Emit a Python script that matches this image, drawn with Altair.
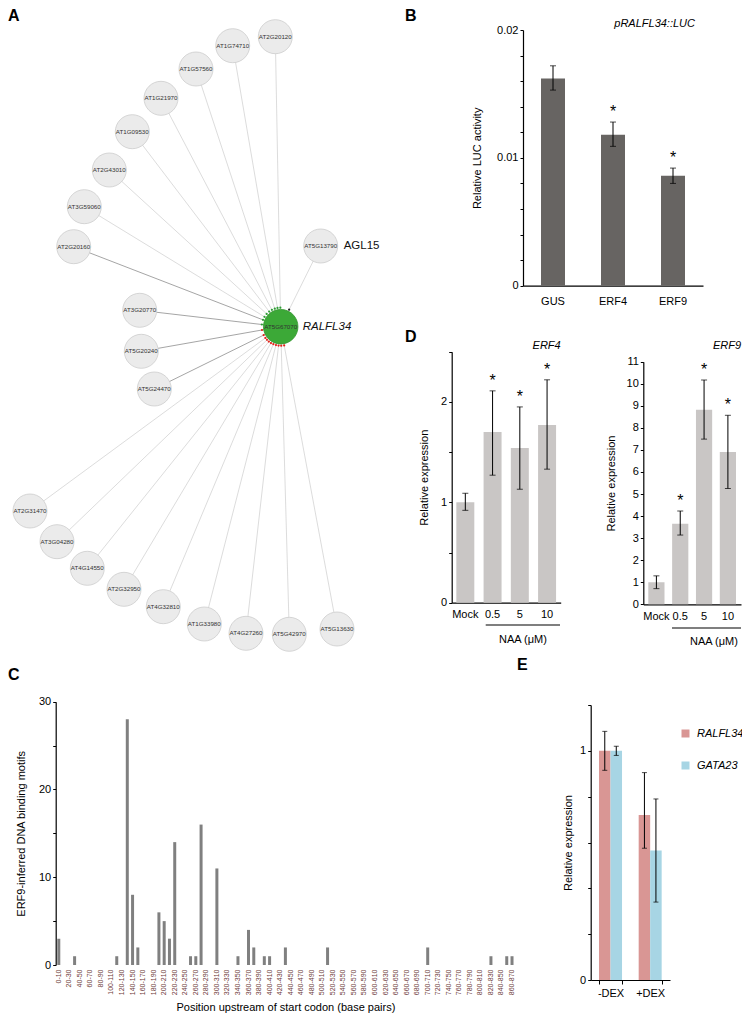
import altair as alt
import pandas as pd

FONT = "Liberation Sans"
H = 1000  # plot height (whole figure)

# ---------------- Panel A: network around RALFL34 ----------------
net_genes = ["AT5G67070", "AT2G20120", "AT1G74710", "AT1G57560", "AT1G21970", "AT1G09530",
             "AT2G43010", "AT3G59060", "AT2G20160", "AT5G13790", "AT3G20770", "AT5G20240",
             "AT5G24470", "AT2G31470", "AT3G04280", "AT4G14550", "AT2G32950", "AT4G32810",
             "AT1G33980", "AT4G27260", "AT5G42970", "AT5G13630"]
net_x = [0, -5.4, -48, -84.7, -119.7, -148.4, -171.4, -196.4, -207, 40, -141, -139.4,
         -126.4, -250.7, -223.7, -193.4, -156.7, -117.4, -76.4, -34.7, 8.6, 56.3]
net_y = [0, 290, 281, 257.7, 228.4, 195, 156.7, 120, 80, 80.7, 16.4, -24.6,
         -62.3, -184.3, -215, -241.6, -262.6, -280, -297.3, -306.6, -307.6, -302.3]
net_link = ["hub", "weak", "weak", "weak", "weak", "weak", "weak", "weak", "strong", "weak",
            "strong", "strong", "strong", "weak", "weak", "weak", "weak", "weak", "weak",
            "weak", "weak", "weak"]
net_effect = ["", "pos", "pos", "pos", "pos", "pos", "pos", "pos", "pos", "other", "pos",
              "neg", "neg", "neg", "neg", "neg", "neg", "neg", "neg", "neg", "neg", "neg"]
ann_genes = ["AT5G67070", "AT5G13790"]
ann_names = ["RALFL34", "AGL15"]

# ---------------- Panel B ----------------
b_groups = ["GUS", "ERF4", "ERF9"]
b_mean = [0.0162, 0.0118, 0.0086]
b_low = [0.0153, 0.0109, 0.0080]
b_high = [0.0172, 0.0128, 0.0092]
b_sig = ["", "*", "*"]

# ---------------- Panel D ----------------
d_groups = ["Mock", "0.5", "5", "10"]
erf4_mean = [1.0, 1.70, 1.54, 1.77]
erf4_low = [0.92, 1.27, 1.13, 1.33]
erf4_high = [1.09, 2.11, 1.95, 2.22]
erf9_mean = [1.0, 3.65, 8.82, 6.91]
erf9_low = [0.71, 3.14, 7.49, 5.25]
erf9_high = [1.29, 4.23, 10.17, 8.57]
d_sig = ["", "*", "*", "*"]

# ---------------- Panel C ----------------
c_bins = [f"{10 * i}-{10 * i + 10}" for i in range(87)]
c_counts = [3, 0, 0, 1, 0, 0, 0, 0, 0, 0,
            0, 1, 0, 28, 8, 2, 0, 0, 0, 6,
            5, 3, 14, 0, 0, 1, 1, 16, 0, 0,
            11, 0, 0, 0, 1, 0, 4, 2, 0, 1,
            1, 0, 0, 2, 0, 0, 0, 0, 0, 0,
            0, 2, 0, 0, 0, 0, 0, 0, 0, 0,
            0, 0, 0, 0, 0, 0, 0, 0, 0, 0,
            2, 0, 0, 0, 0, 0, 0, 0, 0, 0,
            0, 0, 1, 0, 0, 1, 1]

# ---------------- Panel E ----------------
e_conditions = ["-DEX", "+DEX"]
e_genes = ["RALFL34", "GATA23"]
e_ralfl34 = [1.0, 0.72]
e_ralfl34_low = [0.915, 0.575]
e_ralfl34_high = [1.085, 0.905]
e_gata23 = [1.0, 0.565]
e_gata23_low = [0.98, 0.34]
e_gata23_high = [1.02, 0.79]


def text_at(txt, x, y, size=11, style="normal", weight="normal", align="left", angle=0, color="#000"):
    return alt.Chart(pd.DataFrame({"t": [txt]})).mark_text(
        font=FONT, fontSize=size, fontStyle=style, fontWeight=weight, align=align,
        baseline="alphabetic", angle=angle, color=color
    ).encode(x=alt.value(x), y=alt.value(y), text="t:N")


def hline(x1, x2, y):
    return alt.Chart(pd.DataFrame({"a": [0]})).mark_rule(color="black", strokeWidth=1.2).encode(
        x=alt.value(x1), x2=alt.value(x2), y=alt.value(y))


# ======== Panel A ========
dfA = pd.DataFrame({"gene": net_genes, "x": net_x, "y": net_y, "link": net_link, "effect": net_effect})
xA = alt.Scale(domain=[-272.7, 100], range=[0, 372.7])
yA = alt.Scale(domain=[-330, 318.7], range=[648.7, 0])
XA = alt.X("x:Q", scale=xA, axis=None)
YA = alt.Y("y:Q", scale=yA, axis=None)
baseA = alt.Chart(dfA)
edges = baseA.transform_filter("datum.link != 'hub'").transform_calculate(hx="0").transform_calculate(
    hy="0").mark_rule(strokeWidth=0.8).encode(
    x=XA, y=YA, x2="hx:Q", y2="hy:Q",
    stroke=alt.Stroke("link:N", scale=alt.Scale(domain=["strong", "weak"], range=["#8e8e8e", "#d3d3d3"]),
                      legend=None))
arrows = baseA.transform_filter("datum.link != 'hub'").transform_calculate(
    r="sqrt(datum.x*datum.x + datum.y*datum.y)").transform_calculate(
    ax="19*datum.x/datum.r").transform_calculate(ay="19*datum.y/datum.r").mark_circle(
    size=5, opacity=1).encode(
    x=alt.X("ax:Q", scale=xA, axis=None), y=alt.Y("ay:Q", scale=yA, axis=None),
    fill=alt.Fill("effect:N", scale=alt.Scale(domain=["pos", "neg", "other"],
                                               range=["#2e9e35", "#e2231a", "#222222"]), legend=None))
nodes = baseA.transform_filter("datum.link != 'hub'").mark_circle(
    size=1156, fill="#ebebeb", stroke="#cdcdcd", strokeWidth=0.8, opacity=1).encode(x=XA, y=YA)
hub = baseA.transform_filter("datum.link == 'hub'").mark_circle(
    size=1190, fill="#3ca937", stroke="#34962f", strokeWidth=0.8, opacity=1).encode(x=XA, y=YA)
node_labels = baseA.mark_text(font=FONT, fontSize=6.2, color="#333333").encode(x=XA, y=YA, text="gene:N")
dfAnn = pd.DataFrame({"gene": ann_genes, "name": ann_names})
ann_base = alt.Chart(dfAnn).transform_lookup(lookup="gene", from_=alt.LookupData(dfA, "gene", ["x", "y"]))
ann_it = ann_base.transform_filter("datum.name == 'RALFL34'").mark_text(
    font=FONT, fontSize=11.5, fontStyle="italic", align="left", dx=22, color="#111").encode(
    x=XA, y=YA, text="name:N")
ann_up = ann_base.transform_filter("datum.name != 'RALFL34'").mark_text(
    font=FONT, fontSize=11.5, align="left", dx=23, color="#111").encode(x=XA, y=YA, text="name:N")
panelA = alt.layer(edges, arrows, nodes, hub, node_labels, ann_it, ann_up)


# ======== Bar panels (B, D) ========
def bar_panel(groups, mean, low, high, sig, xrange, pin, pout, x0, y0, ydomain, yrange,
              yvalues, ylabel_expr, ytitle, tpad, color, cap, star_dy=-5, xlabelpad=6):
    df = pd.DataFrame({"g": groups, "m": mean, "lo": low, "hi": high, "s": sig})
    xaxis = alt.Axis(orient="bottom", offset=y0 - H, title=None, ticks=False, labelAngle=0,
                     labelPadding=xlabelpad, domainWidth=1.2)
    X = alt.X("g:N", sort=groups, scale=alt.Scale(domain=groups, range=xrange, paddingInner=pin,
                                                 paddingOuter=pout), axis=xaxis)
    yaxis = alt.Axis(orient="left", offset=-x0, values=yvalues, labelExpr=ylabel_expr,
                     title=ytitle, titlePadding=tpad, domainWidth=1.2)
    ysc = alt.Scale(domain=ydomain, range=yrange, nice=False, zero=True)
    base = alt.Chart(df)
    bars = base.mark_bar(color=color).encode(x=X, y=alt.Y("m:Q", scale=ysc, axis=yaxis))
    rule = base.mark_rule(color="black", strokeWidth=1).encode(
        x=X, y=alt.Y("lo:Q", scale=ysc, axis=yaxis), y2="hi:Q")
    cap_lo = base.mark_tick(color="black", thickness=1, size=cap).encode(
        x=X, y=alt.Y("lo:Q", scale=ysc, axis=yaxis))
    cap_hi = base.mark_tick(color="black", thickness=1, size=cap).encode(
        x=X, y=alt.Y("hi:Q", scale=ysc, axis=yaxis))
    stars = base.mark_text(font=FONT, fontSize=16, baseline="alphabetic", dy=star_dy, color="black").encode(
        x=X, y=alt.Y("hi:Q", scale=ysc, axis=yaxis), text="s:N")
    return alt.layer(bars, rule, cap_lo, cap_hi, stars)


panelB = bar_panel(
    b_groups, b_mean, b_low, b_high, b_sig, [515, 695], 0.6, 0.3, 515, 277.7, [0, 0.02], [277.7, 22],
    [i * 0.002 for i in range(11)],
    "abs(datum.value*100 - round(datum.value*100)) < 1e-6 ? format(datum.value, '.2~f') : ''",
    "Relative LUC activity", 14, "#676462", 6, xlabelpad=10)

panelD1 = bar_panel(
    d_groups, erf4_mean, erf4_low, erf4_high, d_sig, [443.7, 552.7], 0.34, 0.17, 443.7, 594.7,
    [0, 2.5], [594.7, 343.7], [0, 0.5, 1, 1.5, 2, 2.5],
    "datum.value % 1 === 0 ? format(datum.value, 'd') : ''",
    "Relative expression", 11, "#c9c6c5", 6)

panelD2 = bar_panel(
    d_groups, erf9_mean, erf9_low, erf9_high, d_sig, [635.3, 733], 0.32, 0.21, 635.3, 596.3,
    [0, 11], [596.3, 353.7], list(range(12)),
    "format(datum.value, 'd')",
    "Relative expression", 10, "#c9c6c5", 6)

# ======== Panel C ========
dfC = pd.DataFrame({"bin": c_bins, "n": c_counts})
panelC = alt.Chart(dfC).mark_bar(color="#808080").encode(
    x=alt.X("bin:N", sort=c_bins,
            scale=alt.Scale(domain=c_bins, range=[47.7, 507.1], paddingInner=0.43, paddingOuter=0.3),
            axis=alt.Axis(orient="bottom", offset=957 - H, values=c_bins[::2], labelAngle=-90,
                          domain=False, ticks=False, labelFontSize=7, labelColor="#6e3b3b",
                          labelPadding=4, labelOverlap=False,
                          title="Position upstream of start codon (base pairs)", titlePadding=7)),
    y=alt.Y("n:Q", scale=alt.Scale(domain=[0, 30], range=[957, 693.7], nice=False),
            axis=alt.Axis(orient="left", offset=-47.7, values=[0, 5, 10, 15, 20, 25, 30],
                          labelExpr="datum.value % 10 === 0 ? format(datum.value, 'd') : ''",
                          title="ERF9-inferred DNA binding motifs", titlePadding=12, domainWidth=1.2)),
)

# ======== Panel E ========
rows = []
for i, c in enumerate(e_conditions):
    rows.append({"cond": c, "gene": "RALFL34", "m": e_ralfl34[i], "lo": e_ralfl34_low[i], "hi": e_ralfl34_high[i]})
    rows.append({"cond": c, "gene": "GATA23", "m": e_gata23[i], "lo": e_gata23_low[i], "hi": e_gata23_high[i]})
dfE = pd.DataFrame(rows)
XE = alt.X("cond:N", sort=e_conditions,
           scale=alt.Scale(domain=e_conditions, range=[582.7, 662], paddingInner=0.42, paddingOuter=0.21),
           axis=alt.Axis(orient="bottom", offset=972 - H, title=None, labelAngle=0, tickBand="extent",
                         tickSize=4, labelPadding=3, domainWidth=1.2))
XOE = alt.XOffset("gene:N", sort=e_genes, scale=alt.Scale(domain=e_genes, paddingInner=0, paddingOuter=0))
ysE = alt.Scale(domain=[0, 1.2], range=[972, 697], nice=False)
yaxE = alt.Axis(orient="left", offset=-582.7, values=[0, 0.2, 0.4, 0.6, 0.8, 1.0, 1.2],
                labelExpr="abs(datum.value - round(datum.value)) < 1e-6 ? format(datum.value, 'd') : ''",
                title="Relative expression", titlePadding=6, domainWidth=1.2)
baseE = alt.Chart(dfE)
barsE = baseE.mark_bar().encode(
    x=XE, xOffset=XOE, y=alt.Y("m:Q", scale=ysE, axis=yaxE),
    color=alt.Color("gene:N", sort=e_genes,
                    scale=alt.Scale(domain=e_genes, range=["#d99694", "#a7d5e4"]),
                    legend=alt.Legend(orient="none", legendX=672, legendY=720, title=None,
                                      symbolType="square", symbolSize=64, symbolStrokeWidth=0,
                                      labelFontStyle="italic", labelFontSize=11, labelFont=FONT,
                                      rowPadding=20, labelOffset=6, padding=0)))
ruleE = baseE.mark_rule(color="black", strokeWidth=1).encode(
    x=XE, xOffset=XOE, y=alt.Y("lo:Q", scale=ysE, axis=yaxE), y2="hi:Q")
capE1 = baseE.mark_tick(color="black", thickness=1, size=5).encode(
    x=XE, xOffset=XOE, y=alt.Y("lo:Q", scale=ysE, axis=yaxE))
capE2 = baseE.mark_tick(color="black", thickness=1, size=5).encode(
    x=XE, xOffset=XOE, y=alt.Y("hi:Q", scale=ysE, axis=yaxE))
panelE = alt.layer(barsE, ruleE, capE1, capE2)

# ======== Annotations ========
annots = alt.layer(
    text_at("A", 0, 13, size=16, weight="bold"),
    text_at("B", 397, 13, size=16, weight="bold"),
    text_at("C", 0, 672, size=16, weight="bold"),
    text_at("D", 397, 333.7, size=16, weight="bold"),
    text_at("E", 509, 662, size=16, weight="bold"),
    text_at("pRALFL34::LUC", 687, 18.7, style="italic", align="right"),
    text_at("ERF4", 552.7, 341.3, style="italic", align="right"),
    text_at("ERF9", 733, 341.3, style="italic", align="right"),
    hline(477.7, 552, 617),
    text_at("NAA (μM)", 515, 635.3, align="center"),
    hline(664, 733, 620),
    text_at("NAA (μM)", 706, 637, align="center"),
)

chart = alt.layer(panelA, panelB, panelD1, panelD2, panelC, panelE, annots).resolve_scale(
    x="independent", y="independent", color="independent", fill="independent",
    stroke="independent", xOffset="independent"
).properties(
    width=734, height=H, autosize=alt.AutoSizeParams(type="none"),
    padding={"left": 0, "top": 0, "right": 0, "bottom": 8}
).configure_axis(
    grid=False, domainColor="#000", tickColor="#000", labelColor="#000", titleColor="#000",
    labelFont=FONT, titleFont=FONT, labelFontSize=11, titleFontSize=11, titleFontWeight="normal",
    tickSize=3, tickWidth=1
).configure_view(stroke=None)

chart.save("out.html", embed_options={"renderer": "svg", "actions": False})
